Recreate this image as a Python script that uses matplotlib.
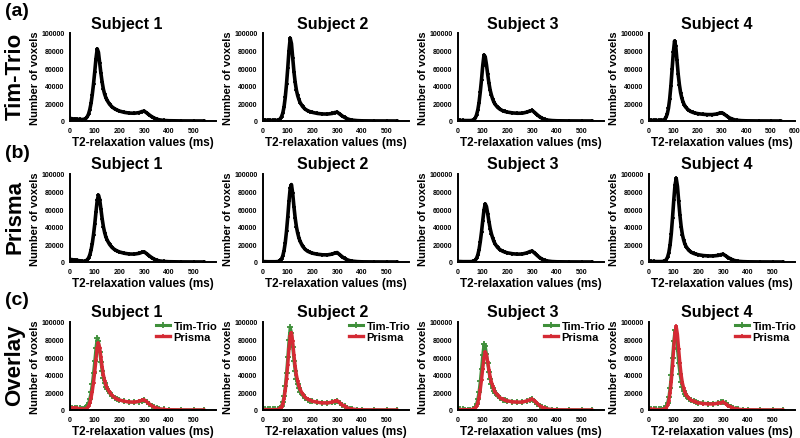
import matplotlib
matplotlib.use("Agg")
import matplotlib.pyplot as plt

plt.rcParams["font.family"] = ["Liberation Sans", "DejaVu Sans"]
plt.rcParams["font.weight"] = "bold"
plt.rcParams["axes.labelweight"] = "bold"

# T2 bins (ms)
t2 = [0, 10, 20, 30, 40, 50, 60, 65, 70, 75, 80, 85, 90, 95, 100, 105, 110, 115,
      120, 125, 130, 135, 140, 145, 150, 160, 170, 180, 190, 200, 220, 240, 260,
      280, 290, 300, 310, 320, 330, 340, 350, 360, 380, 400, 450, 500, 540]

subjects = ["Subject 1", "Subject 2", "Subject 3", "Subject 4"]

trio_s1 = [3000, 2500, 2200, 2000, 1800, 1700, 2200, 3200, 5000, 8000, 13000, 20000,
           30000, 42000, 56000, 71000, 82000, 78000, 66000, 54000, 44000, 36000,
           30500, 26500, 23500, 19000, 16000, 14000, 12500, 11300, 9800, 9000, 8800,
           9600, 10700, 11200, 9200, 7000, 5000, 3400, 2200, 1400, 600, 300, 100, 50, 30]
trio_s2 = [1200, 1000, 900, 800, 700, 700, 900, 1400, 2600, 5000, 9000, 16000,
           27000, 42000, 60000, 80000, 94000, 88000, 72000, 56000, 44000, 35000,
           29000, 24500, 21000, 16500, 13500, 11800, 10600, 9800, 8600, 8000, 7900,
           8600, 9600, 10000, 7900, 5800, 4000, 2600, 1600, 1000, 450, 200, 80, 40, 20]
trio_s3 = [800, 700, 600, 500, 500, 500, 900, 1700, 3500, 7000, 12500, 21000,
           33000, 47000, 63000, 75000, 73000, 64000, 53000, 43000, 35000, 29500,
           25000, 21500, 19000, 15500, 13300, 11800, 10800, 10100, 9200, 8800, 8900,
           10200, 11400, 12000, 9600, 7100, 4800, 3100, 1900, 1100, 500, 250, 100, 50, 30]
trio_s4 = [1000, 900, 800, 700, 700, 800, 1200, 2200, 4200, 8000, 14500, 25000,
           40000, 59000, 78000, 91000, 85000, 69000, 53000, 41000, 32000, 26000,
           21500, 18500, 16000, 13000, 11000, 9800, 9000, 8400, 7700, 7300, 7300,
           8000, 9000, 9400, 7600, 5600, 3700, 2400, 1500, 900, 400, 200, 80, 40, 0]

prisma_s1 = [3000, 2600, 2200, 1800, 1300, 900, 1000, 1500, 2600, 4600, 8000, 13500,
             21000, 31000, 43000, 57000, 70000, 76000, 71000, 60000, 49000, 40000,
             33500, 28500, 25000, 20000, 16500, 14200, 12600, 11400, 9900, 9100, 9000,
             9900, 11000, 11500, 9400, 7100, 5000, 3300, 2100, 1300, 600, 300, 100, 50, 30]
prisma_s2 = [500, 400, 300, 300, 300, 300, 500, 900, 1800, 3600, 7000, 13000,
             22000, 35000, 51000, 69000, 84000, 88000, 78000, 63000, 50000, 40000,
             33000, 27500, 23500, 18000, 14500, 12300, 11000, 10000, 8800, 8200, 8100,
             9000, 10200, 10700, 8300, 6000, 4000, 2600, 1600, 1000, 450, 200, 80, 40, 20]
prisma_s3 = [600, 500, 400, 400, 400, 400, 600, 1100, 2200, 4300, 8000, 14000,
             23000, 34000, 47000, 59000, 66000, 63000, 55000, 46000, 38000, 32000,
             27500, 23500, 20500, 16500, 14000, 12300, 11200, 10400, 9400, 8900, 9100,
             10500, 11800, 12400, 10000, 7400, 5000, 3200, 2000, 1200, 500, 250, 100, 50, 30]
prisma_s4 = [800, 700, 600, 500, 500, 500, 800, 1400, 2800, 5500, 10500, 19000,
             32000, 50000, 70000, 87000, 95000, 86000, 69000, 53000, 40000, 31000,
             25000, 20500, 17500, 13500, 11200, 9800, 8900, 8200, 7300, 6900, 6900,
             7500, 8400, 8800, 7000, 5100, 3500, 2200, 1400, 800, 400, 200, 80, 40, 20]

trio = [trio_s1, trio_s2, trio_s3, trio_s4]
prisma = [prisma_s1, prisma_s2, prisma_s3, prisma_s4]

y_ticks = [0, 20000, 40000, 60000, 80000, 100000]
x_ticks = [0, 100, 200, 300, 400, 500]
x_ticks_wide = [0, 100, 200, 300, 400, 500, 600]

row_names = ["Tim-Trio", "Prisma", "Overlay"]
panel_tags = ["(a)", "(b)", "(c)"]

GREEN = "#3f8f3a"
RED = "#d42a34"

W, H = 800, 439
fig = plt.figure(figsize=(W / 100, H / 100), dpi=100)

col_left = [70, 263, 458, 649]
row_bottom = [122, 263, 411]
ax_w, ax_h = 146, 88
title_x = [127, 333, 523, 717]


def style_axes(ax, xt):
    ax.set_xlim(0, 590)
    ax.set_ylim(0, 100000)
    ax.set_xticks(xt)
    ax.set_xticklabels([str(v) for v in xt])
    ax.set_yticks(y_ticks)
    ax.set_yticklabels([str(v) for v in y_ticks])
    ax.tick_params(length=0, labelsize=5, pad=4)
    for s in ["top", "right"]:
        ax.spines[s].set_visible(False)
    for s in ["left", "bottom"]:
        ax.spines[s].set_linewidth(1.4)
    ax.set_xlabel("T2-relaxation values (ms)", fontsize=8.5, labelpad=2)
    ax.set_ylabel("Number of voxels", fontsize=8, labelpad=1)


for r in range(3):
    for c in range(4):
        ax = fig.add_axes([col_left[c] / W, 1 - row_bottom[r] / H, ax_w / W, ax_h / H])
        if r == 0:
            ax.plot(t2, trio[c], color="black", lw=2.6, marker="+", ms=3.5, mew=1.2)
        elif r == 1:
            ax.plot(t2, prisma[c], color="black", lw=2.6, marker="+", ms=3.5, mew=1.2)
        else:
            ax.plot(t2, trio[c], color=GREEN, lw=2.2, marker="+", ms=4, mew=1.3,
                    label="Tim-Trio")
            ax.plot(t2, prisma[c], color=RED, lw=2.4, marker="+", ms=3.5, mew=1.2,
                    label="Prisma")
            ax.legend(loc="upper right", bbox_to_anchor=(1.04, 1.06), frameon=False,
                      fontsize=8, handlelength=1.3, handletextpad=0.3,
                      labelspacing=0.05, borderaxespad=0)
        style_axes(ax, x_ticks_wide if (r == 0 and c == 3) else x_ticks)
        fig.text(title_x[c] / W, 1 - (row_bottom[r] - 98) / H, subjects[c],
                 fontsize=11.5, ha="center", va="center")

    mid = row_bottom[r] - 44
    fig.text(15 / W, 1 - (mid - 2) / H, row_names[r], fontsize=16, rotation=90,
             ha="center", va="center")
    fig.text(5 / W, 1 - (row_bottom[r] - 110) / H, panel_tags[r], fontsize=14,
             ha="left", va="center")

fig.savefig("out.png", dpi=100)
